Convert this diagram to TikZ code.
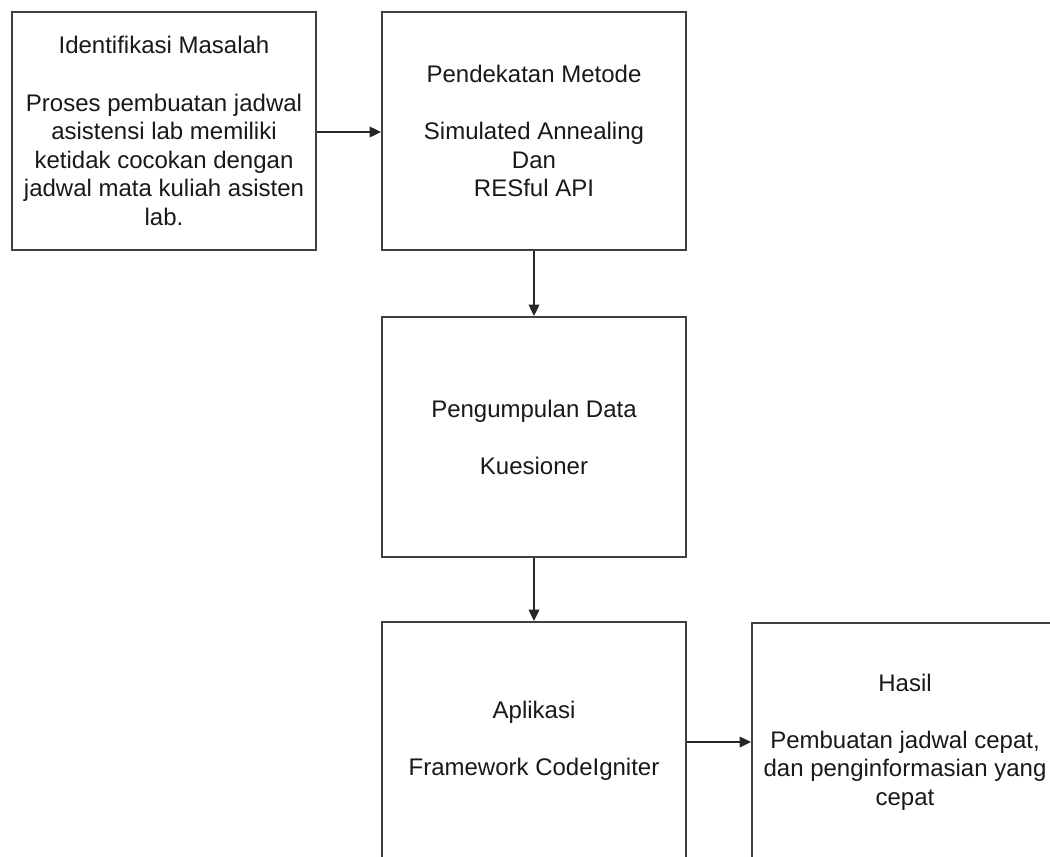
\documentclass[tikz,border=0pt]{standalone}
\usepackage{fontspec}
\setmainfont{Liberation Sans}
\usetikzlibrary{arrows.meta}
\begin{document}
\begin{tikzpicture}[x=0.75pt,y=-0.75pt,
  box/.style={draw=black!75, line width=1.6pt, rectangle, inner sep=0pt,
    minimum width=228pt, minimum height=178.5pt, align=center,
    font=\fontsize{18}{21.4}\selectfont, text=black!90},
  conn/.style={draw=black!85, line width=1.2pt, -{Triangle[length=8.5pt,width=8pt]}}]
\useasboundingbox (0,0) rectangle (1050,857);
\clip (0,0) rectangle (1050,857);
\fill[white] (0,0) rectangle (1050,857);
\node[box] (b1) at (164,131) {Identifikasi Masalah\\[21.4pt]Proses pembuatan jadwal\\asistensi lab memiliki\\ketidak cocokan dengan\\jadwal mata kuliah asisten\\lab.};
\node[box] (b2) at (534,131) {Pendekatan Metode\\[21.4pt]Simulated Annealing\\Dan\\RESful API};
\node[box, minimum height=180pt] (b3) at (534,437) {Pengumpulan Data\\[21.4pt]Kuesioner};
\node[box] (b4) at (534,741) {Aplikasi\\[21.4pt]Framework CodeIgniter};
\node[box, minimum width=229.5pt] (b5) at (905,742) {Hasil\\[21.4pt]Pembuatan jadwal cepat,\\dan penginformasian yang\\cepat};
\draw[conn] (b1.east |- 0,132) -- (b2.west |- 0,132);
\draw[conn] (b2) -- (b3);
\draw[conn] (b3) -- (b4);
\draw[conn] (b4.east |- 0,742) -- (b5.west |- 0,742);
\end{tikzpicture}
\end{document}
